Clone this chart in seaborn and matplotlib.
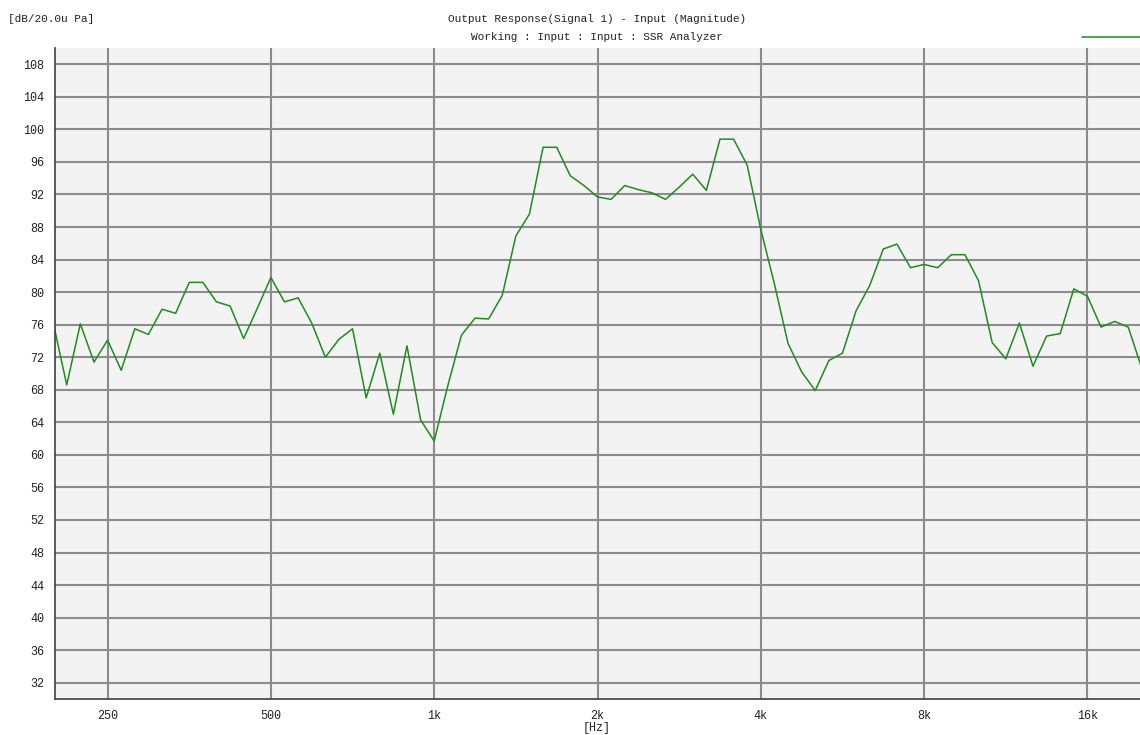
import matplotlib
matplotlib.use("Agg")
import matplotlib.pyplot as plt
import seaborn as sns

# 1/12 octave analysis points (Hz)
freqs = [198.4, 210.2, 222.7, 236.0, 250.0, 264.9, 280.6, 297.3, 315.0, 333.7,
         353.6, 374.6, 396.9, 420.4, 445.4, 471.9, 500.0, 529.7, 561.2, 594.6,
         630.0, 667.4, 707.1, 749.2, 793.7, 840.9, 890.9, 943.9, 1000.0, 1059.5,
         1122.5, 1189.2, 1259.9, 1334.8, 1414.2, 1498.3, 1587.4, 1681.8, 1781.8, 1887.7,
         2000.0, 2118.9, 2244.9, 2378.4, 2519.8, 2669.7, 2828.4, 2996.6, 3174.8, 3363.6,
         3563.6, 3775.5, 4000.0, 4237.9, 4489.8, 4756.8, 5039.7, 5339.4, 5656.9, 5993.2,
         6349.6, 6727.2, 7127.2, 7551.0, 8000.0, 8475.7, 8979.7, 9513.7, 10079.0, 10679.0,
         11314.0, 11986.0, 12699.0, 13454.0, 14254.0, 15102.0, 16000.0, 16951.0, 17959.0, 19027.0,
         20159.0]

# magnitude in dB re 20 uPa
levels = [76.3, 68.6, 76.1, 71.4, 74.1, 70.4, 75.5, 74.8, 77.9, 77.4,
          81.2, 81.2, 78.8, 78.3, 74.3, 78.0, 81.8, 78.8, 79.3, 76.2,
          72.0, 74.2, 75.5, 67.0, 72.5, 65.0, 73.4, 64.3, 61.7, 68.5,
          74.7, 76.8, 76.7, 79.6, 86.9, 89.6, 97.8, 97.8, 94.3, 93.1,
          91.7, 91.4, 93.1, 92.6, 92.2, 91.4, 92.9, 94.5, 92.5, 98.8,
          98.8, 95.6, 87.7, 81.0, 73.7, 70.2, 67.9, 71.6, 72.5, 77.7,
          80.8, 85.3, 85.9, 83.0, 83.4, 83.0, 84.6, 84.6, 81.4, 73.8,
          71.8, 76.2, 70.9, 74.6, 74.9, 80.4, 79.5, 75.7, 76.4, 75.7,
          70.6]

x_ticks = [250, 500, 1000, 2000, 4000, 8000, 16000]
x_labels = ["250", "500", "1k", "2k", "4k", "8k", "16k"]
y_ticks = list(range(32, 109, 4))

sns.set_style("white")
plt.rcParams["font.family"] = ["Liberation Mono", "DejaVu Sans Mono"]
plt.rcParams["font.size"] = 8

fig = plt.figure(figsize=(11.4, 7.35), dpi=100)
ax = fig.add_axes([55 / 1140, 1 - 699 / 735, 1 - 55 / 1140, (699 - 48) / 735])
ax.set_facecolor("#f3f3f3")

sns.lineplot(x=freqs, y=levels, ax=ax, color="#1f8c1f", linewidth=1.1,
             label=" ", legend=False)

ax.set_xscale("log")
ax.set_xlim(200, 20000)
ax.set_ylim(30, 110)
ax.set_xticks(x_ticks)
ax.set_xticklabels(x_labels)
ax.minorticks_off()
ax.set_yticks(y_ticks)

ax.grid(True, color="#8c8c8c", linewidth=1.5)
ax.set_axisbelow(True)
for side in ["top", "right"]:
    ax.spines[side].set_visible(False)
for side in ["left", "bottom"]:
    ax.spines[side].set_color("#404040")
    ax.spines[side].set_linewidth(1.2)
ax.tick_params(axis="both", direction="out", length=5, width=1,
               color="#404040", labelsize=8.5, labelcolor="#222222", pad=3)

# titles / units
fig.text(597 / 1140, 1 - 19 / 735, "Output Response(Signal 1) - Input (Magnitude)",
         ha="center", va="center", fontsize=8, color="#222222")
fig.text(597 / 1140, 1 - 37 / 735, "Working : Input : Input : SSR Analyzer",
         ha="center", va="center", fontsize=8, color="#222222")
fig.text(8 / 1140, 1 - 19 / 735, "[dB/20.0u Pa]", ha="left", va="center",
         fontsize=8, color="#222222")
fig.text(597 / 1140, 1 - 728 / 735, "[Hz]", ha="center", va="center",
         fontsize=8.5, color="#222222")

# legend line (no text) at top right
handles, _ = ax.get_legend_handles_labels()
fig.legend(handles, [""], loc="center right", bbox_to_anchor=(1.0, 1 - 38 / 735),
           frameon=False, handlelength=5.2, handletextpad=0, borderpad=0,
           borderaxespad=0)

fig.savefig("out.png", dpi=100, facecolor="white")
